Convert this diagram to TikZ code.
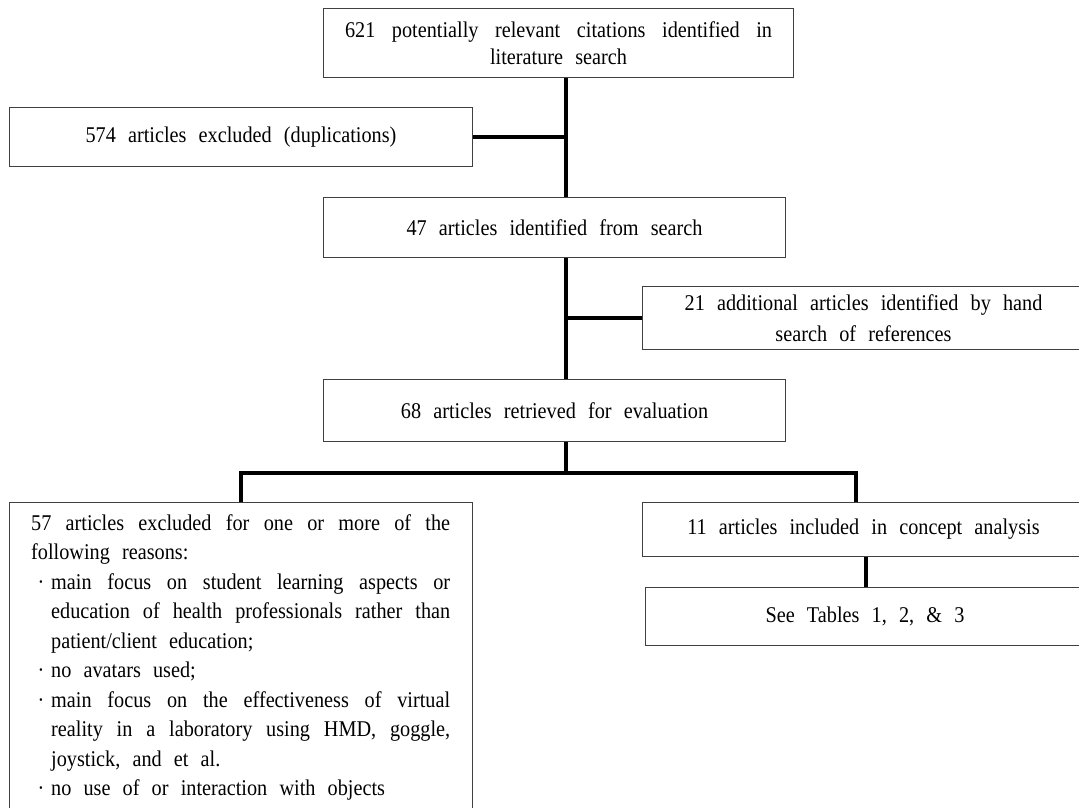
\documentclass[tikz,border=0pt]{standalone}
\usepackage{fontspec}
\setmainfont{Liberation Serif}[WordSpace=2.4, FakeStretch=0.9]
\begin{document}
\begin{tikzpicture}[x=1pt,y=-1pt,
  box/.style={draw=black!75, line width=1pt, rectangle, anchor=north west, inner sep=0pt, align=center,
     font=\fontsize{22.5}{27}\selectfont},
  conn/.style={draw=black, line width=3.5pt}]
\useasboundingbox (0,0) rectangle (1079,807);
\clip (0,0) rectangle (1079,807);
\fill[white] (0,0) rectangle (1079,807);

\node[box, minimum width=470, minimum height=69] (top) at (323,8)
  {\makebox[427pt][s]{621 potentially relevant citations identified in}\\ literature search};
\node[box, minimum width=463, minimum height=59] (dup) at (9,107)
  {574 articles excluded (duplications)};
\node[box, minimum width=462, minimum height=60] (s47) at (323,197)
  {47 articles identified from search};
\node[box, minimum width=442, minimum height=63, font=\fontsize{22.5}{30.5}\selectfont] (add) at (642,286)
  {21 additional articles identified by hand\\ search of references};
\node[box, minimum width=462, minimum height=62] (r68) at (323,379)
  {68 articles retrieved for evaluation};
\node[box, minimum width=442, minimum height=54] (incl) at (642,502)
  {11 articles included in concept analysis};
\node[box, minimum width=439, minimum height=58] (tab) at (645,587)
  {See Tables 1, 2, \& 3};
\node[box, minimum width=463, minimum height=330] (excl) at (9,502) {};
\node[anchor=base west, inner sep=0pt, font=\fontsize{22.5}{29.5}\selectfont] (excltext) at (31,530)
  {\parbox[t]{419pt}{\baselineskip=29.5pt
   \makebox[419pt][s]{57 articles excluded for one or more of the}\\
   following reasons:\\
   \makebox[20pt][l]{\hspace*{6.5pt}·}\makebox[399pt][s]{main focus on student learning aspects or}\\
   \hspace*{20pt}\makebox[399pt][s]{education of health professionals rather than}\\
   \hspace*{20pt}patient/client education;\\
   \makebox[20pt][l]{\hspace*{6.5pt}·}no avatars used;\\
   \makebox[20pt][l]{\hspace*{6.5pt}·}\makebox[399pt][s]{main focus on the effectiveness of virtual}\\
   \hspace*{20pt}\makebox[399pt][s]{reality in a laboratory using HMD, goggle,}\\
   \hspace*{20pt}joystick, and et al.\\
   \makebox[20pt][l]{\hspace*{6.5pt}·}no use of or interaction with objects}};

\coordinate (spine) at (566,0);
\coordinate (split) at (566,473);
\coordinate (rb) at (856,0);
\coordinate (tb) at (866,0);

\draw[conn] (top.south -| spine) -- (s47.north -| spine);
\draw[conn] (spine |- dup.east) -- (dup.east);
\draw[conn] (s47.south -| spine) -- (r68.north -| spine);
\draw[conn] (spine |- add.west) -- (add.west);
\draw[conn] (r68.south -| spine) -- (split);
\draw[conn] (excl.north) -- (excl.north |- split) -- (rb |- split) -- (rb |- incl.north);
\draw[conn] (incl.south -| tb) -- (tab.north -| tb);
\end{tikzpicture}
\end{document}
